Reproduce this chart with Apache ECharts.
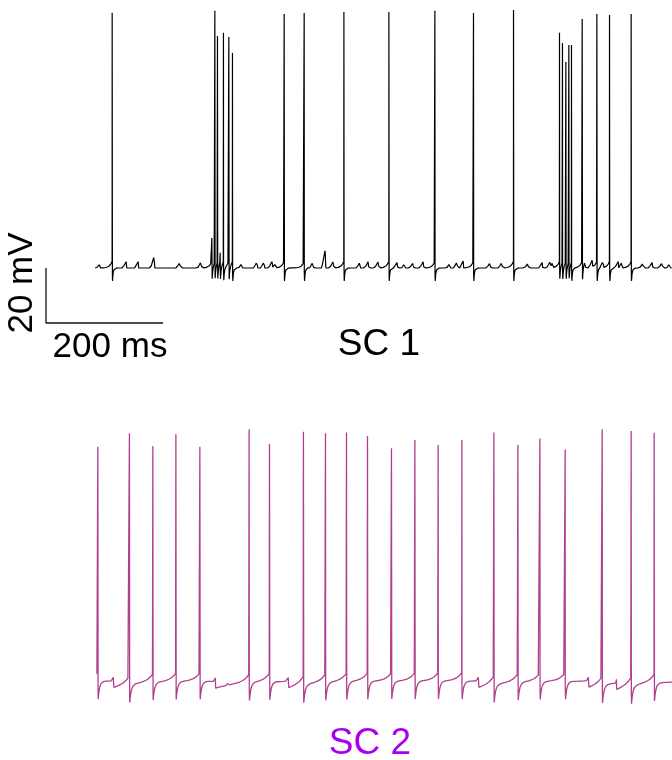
<!DOCTYPE html>
<html>
<head>
<meta charset="utf-8">
<script src="https://cdn.jsdelivr.net/npm/echarts@6/dist/echarts.min.js"></script>
<style>
html,body{margin:0;padding:0;background:#fff;}
#chart{width:672px;height:760px;}
</style>
</head>
<body>
<div id="chart"></div>
<script>
// ---------------- data (ms, mV) ----------------
// SC 1 (black trace)
const trace1Span = [0, 986];
const spikeTimes1 = [29.1, 199.5, 204.6, 209.1, 213.7, 219.3, 228.5, 234.7, 323.1, 357.3, 425.2, 502.1, 580.7, 646.7, 715.1, 793.7, 798.8, 804.6, 809.7, 814.2, 832.5, 857.6, 879.2, 916.2];
const spikePeaks1 = [32.8, -49.1, 33.5, 24.4, -54.5, 25.5, 24.0, 18.2, 32.4, 32.7, 33.1, 33.1, 33.5, 32.7, 33.8, 25.5, 21.8, 14.9, 21.1, 21.1, 30.5, 32.4, 32.0, 32.4];
const epspTimes1 = [8.5, 53, 73.5, 100.9, 145.3, 181.2, 251.3, 276.9, 288.9, 302.6, 309.4, 372.6, 393.2, 406.8, 453, 466.7, 483.8, 516.2, 530, 543.6, 560.7, 606.8, 618.8, 629, 675.2, 695.7, 740.2, 764.1, 777.8, 782.9, 837.6, 849.6, 868.4, 894, 900.9, 936.8, 952.2, 969.3, 983];
const epspAmps1  = [1.5, 2.3, 2.3, 4.4, 2.3, 2.3, 2.0, 2.3, 2.3, 2.5, 2.0, 2.3, 6.5, 2.3, 2.3, 2.3, 2.3, 2.0, 2.0, 2.0, 2.3, 2.0, 2.3, 2.5, 2.0, 2.3, 2.0, 2.0, 2.3, 2.3, 2.5, 2.5, 2.5, 2.3, 2.5, 2.0, 2.0, 2.0, 2.0];
const rest1 = -60, trough1 = -64.7;

// SC 2 (magenta trace)
const trace2Span = [3, 986];
const spikeTimes2 = [4.6, 58.6, 98.6, 138, 179, 263.2, 298, 356, 393.7, 429.6, 465.5, 506.5, 546.5, 586.3, 626.8, 681.5, 722.6, 760.2, 803.4, 866.7, 916.2, 955.5];
const spikePeaks2 = [26.3, 31.2, 26.5, 30.8, 26.3, 32.6, 27.3, 31.7, 31.2, 31.5, 30.2, 25.7, 28.7, 26.9, 28.7, 31.5, 26.9, 29.3, 25.3, 32.6, 32.0, 31.4];
const ipspTimes2 = [30.8, 205.1, 329.9, 654.7, 842.7, 890.6];
const bumpTimes2 = [225.6, 234.2];
const rest2 = -59, trough2 = -65.5;

// scale bar
const scaleBarMs = 200, scaleBarMv = 20;
const scaleOrigin = [-84, -80];

// ---------------- build traces ----------------
function neighbours(spikes, t) {
  let last = null, next = null;
  for (const s of spikes) { if (s <= t) last = s; else { next = s; break; } }
  return [last, next];
}
function buildTrace(span, spikes, peaks, vfun) {
  const ts = [];
  for (let t = span[0]; t <= span[1]; t += 0.5) ts.push(+t.toFixed(2));
  spikes.forEach(s => { ts.push(s - 0.2, s, s + 0.6); });
  ts.sort((a, b) => a - b);
  const out = [];
  let prev = null;
  for (const t of ts) {
    if (t < span[0] || t > span[1] || t === prev) continue;
    prev = t;
    const k = spikes.indexOf(t);
    out.push([t, k >= 0 ? peaks[k] : vfun(t)]);
  }
  return out;
}
function v1(t) {
  const [last, next] = neighbours(spikeTimes1, t);
  let v = rest1;
  if (last !== null) {
    const dt = t - last;
    v += dt <= 0.6 ? (trough1 - rest1) * dt / 0.6 : (trough1 - rest1) * Math.exp(-(dt - 0.6) / 1.2);
  }
  if (next !== null) v += 2.5 * Math.exp(-(next - t) / 4);
  epspTimes1.forEach((te, i) => {
    const d = te - t, A = epspAmps1[i];
    if (d >= 0 && d < 6) v += A * (1 - d / 6);
    else if (d < 0 && d > -1) v += A * (1 + d);
  });
  return v;
}
function v2(t) {
  const [last, next] = neighbours(spikeTimes2, t);
  let v = rest2;
  if (last !== null) {
    const dt = t - last;
    v += dt <= 0.6 ? (trough2 - rest2) * dt / 0.6 : (trough2 - rest2) * Math.exp(-(dt - 0.6) / 2.5);
  }
  if (next !== null) v += 3.2 * Math.exp(-(next - t) / 10);
  ipspTimes2.forEach(te => {
    const d = t - te;
    if (d >= 0 && d < 0.8) v += 1.2;
    else if (d >= 0.8) v += -2.5 * Math.exp(-(d - 0.8) / 40);
  });
  bumpTimes2.forEach(te => {
    const d = t - te;
    if (d >= 0 && d < 2) v += 0.8 * (1 - d / 2);
  });
  return v;
}
const data1 = buildTrace(trace1Span, spikeTimes1, spikePeaks1, v1);
const data2 = buildTrace(trace2Span, spikeTimes2, spikePeaks2, v2);
const scaleData = [
  [scaleOrigin[0], scaleOrigin[1] + scaleBarMv],
  [scaleOrigin[0], scaleOrigin[1]],
  [scaleOrigin[0] + scaleBarMs, scaleOrigin[1]]
];

// ---------------- chart ----------------
const chart = echarts.init(document.getElementById('chart'), null, {renderer: 'canvas'});
const hiddenX = {type: 'value', min: -84, max: 986, show: false};
const font = '"Liberation Sans", Arial, sans-serif';
chart.setOption({
  animation: false,
  backgroundColor: '#ffffff',
  grid: [
    {left: 46, right: 0, top: 0, height: 323},
    {left: 46, right: 0, top: 410, height: 300}
  ],
  xAxis: [Object.assign({gridIndex: 0}, hiddenX), Object.assign({gridIndex: 1}, hiddenX)],
  yAxis: [
    {type: 'value', gridIndex: 0, min: -80, max: 37.45, show: false},
    {type: 'value', gridIndex: 1, min: -69.45, max: 39.64, show: false}
  ],
  series: [
    {type: 'line', name: 'SC 1', xAxisIndex: 0, yAxisIndex: 0, data: data1, showSymbol: false, symbol: 'none',
     lineStyle: {color: '#000000', width: 1.2}, clip: false, z: 3},
    {type: 'line', name: 'SC 2', xAxisIndex: 1, yAxisIndex: 1, data: data2, showSymbol: false, symbol: 'none',
     lineStyle: {color: '#b0408e', width: 1.3}, clip: false, z: 3},
    {type: 'line', name: 'scale', xAxisIndex: 0, yAxisIndex: 0, data: scaleData, showSymbol: false, symbol: 'none',
     lineStyle: {color: '#111111', width: 1.3}, clip: false, z: 2}
  ],
  graphic: [
    {type: 'text', x: 22, y: 283, rotation: Math.PI / 2,
     style: {text: '20 mV', font: '35px ' + font, fill: '#000', align: 'center', verticalAlign: 'middle'}},
    {type: 'text', x: 110, y: 347,
     style: {text: '200 ms', font: '35px ' + font, fill: '#000', align: 'center', verticalAlign: 'middle'}},
    {type: 'text', x: 379, y: 345,
     style: {text: 'SC 1', font: '37px ' + font, fill: '#000', align: 'center', verticalAlign: 'middle'}},
    {type: 'text', x: 370, y: 744,
     style: {text: 'SC 2', font: '37px ' + font, fill: '#a600f0', align: 'center', verticalAlign: 'middle'}}
  ]
});
</script>
</body>
</html>
